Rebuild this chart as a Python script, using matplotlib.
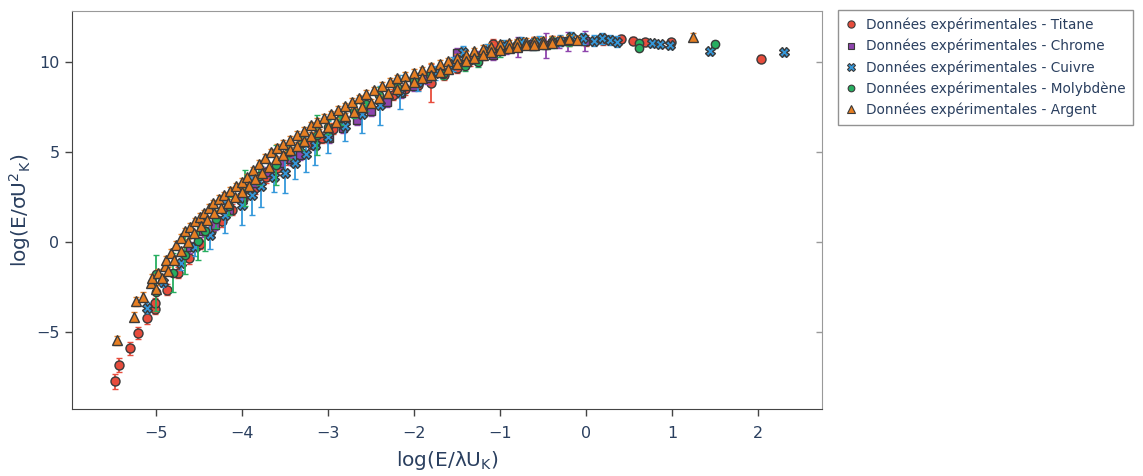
import matplotlib
matplotlib.use("Agg")
import matplotlib.pyplot as plt
from matplotlib.lines import Line2D

plt.rcParams["font.family"] = ["DejaVu Sans"]
plt.rcParams["mathtext.fontset"] = "dejavusans"

TEXT = "#2a3f5f"
EDGE = "#3a3a3a"

# Titane
titane_x = [-5.47, -5.42, -5.30, -5.20, -5.10, -5.01, -5.01, -4.87, -4.74, -4.61,
            -4.48, -4.36, -4.23, -4.11, -3.98, -3.85, -3.72, -3.59, -3.46, -3.33,
            -3.20, -3.07, -2.94, -2.80, -2.66, -2.52, -2.38, -2.24, -2.10, -1.95,
            -1.80, -1.65, -1.50, -1.35, -1.20, -1.08, -0.95, -0.80, -0.60, -0.40,
            -0.20, 0.00, 0.20, 0.41, 0.55, 0.69, 0.99, 2.03]
titane_y = [-7.75, -6.85, -5.90, -5.05, -4.20, -3.70, -3.40, -2.65, -1.70, -0.90,
            -0.10, 0.60, 1.15, 1.80, 2.40, 3.00, 3.60, 4.10, 4.60, 5.10,
            5.45, 5.80, 6.30, 6.70, 7.10, 7.50, 7.85, 8.20, 8.50, 8.75,
            8.85, 9.30, 9.70, 10.10, 10.45, 11.00, 10.80, 10.95, 11.10, 11.15,
            11.20, 11.20, 11.25, 11.30, 11.20, 11.10, 11.10, 10.20]
titane_err = [0.40, 0.40, 0.35, 0.35, 0.35, 0.30, 0.30, 0.30, 0.30, 0.30,
              0.30, 0.30, 0.30, 0.30, 0.30, 0.30, 0.30, 0.30, 0.30, 0.30,
              0.30, 0.30, 0.30, 0.30, 0.30, 0.30, 0.30, 0.30, 0.30, 0.30,
              1.05, 0.30, 0.30, 0.30, 0.30, 0.30, 0.30, 0.30, 0.30, 0.30,
              0.30, 0.30, 0.30, 0.20, 0.20, 0.20, 0.20, 0.20]

# Chrome
chrome_x = [-4.60, -4.45, -4.31, -4.15, -4.00, -3.85, -3.70, -3.55, -3.43, -3.32,
            -3.15, -2.99, -2.82, -2.66, -2.50, -2.31, -2.15, -2.00, -1.85, -1.70,
            -1.50, -1.39, -1.25, -1.08, -0.93, -0.79, -0.62, -0.46, -0.32, -0.21,
            -0.01]
chrome_y = [-0.30, 0.60, 0.95, 1.80, 2.50, 3.30, 3.90, 4.40, 4.60, 4.85,
            5.40, 5.80, 6.35, 6.80, 7.30, 7.80, 8.30, 8.70, 9.10, 9.50,
            10.50, 10.00, 10.30, 10.40, 10.75, 10.87, 11.00, 10.95, 11.10, 11.17,
            11.20]
chrome_err = [0.30, 0.30, 0.30, 0.30, 0.30, 0.30, 0.30, 0.30, 0.30, 0.30,
              0.30, 0.30, 0.30, 0.30, 0.30, 0.30, 0.30, 0.30, 0.30, 0.30,
              0.30, 0.30, 0.30, 0.30, 0.30, 0.56, 0.30, 0.70, 0.30, 0.53,
              0.55]

# Cuivre
cuivre_x = [-5.10, -4.91, -4.70, -4.54, -4.37, -4.19, -4.00, -3.88, -3.77, -3.62,
            -3.50, -3.38, -3.25, -3.15, -3.00, -2.80, -2.60, -2.39, -2.16, -1.95,
            -1.75, -1.55, -1.43, -1.15, -0.95, -0.75, -0.55, -0.30, -0.17, -0.03,
            0.09, 0.18, 0.28, 0.36, 0.76, 0.86, 0.98, 1.44, 2.30]
cuivre_y = [-3.65, -2.20, -1.15, -0.25, 0.40, 1.50, 2.05, 2.60, 3.10, 3.60,
            3.85, 4.40, 4.90, 5.40, 5.85, 6.45, 7.10, 7.60, 8.35, 8.90,
            9.40, 9.90, 10.59, 10.70, 10.95, 11.10, 11.15, 11.20, 11.39, 11.33,
            11.20, 11.33, 11.24, 11.15, 11.05, 11.00, 10.95, 10.60, 10.55]
cuivre_err = [0.30, 0.30, 0.40, 0.50, 0.80, 1.00, 1.10, 1.10, 1.15, 0.80,
              1.10, 0.90, 1.00, 1.10, 0.90, 0.85, 1.05, 1.10, 0.95, 0.50,
              0.40, 0.40, 0.30, 0.30, 0.30, 0.30, 0.30, 0.30, 0.30, 0.30,
              0.30, 0.30, 0.30, 0.30, 0.20, 0.20, 0.20, 0.20, 0.20]

# Molybdène
molybdene_x = [-4.99, -4.99, -4.80, -4.66, -4.51, -4.43, -4.30, -4.15, -3.96, -3.80,
               -3.60, -3.45, -3.30, -3.13, -3.00, -2.85, -2.70, -2.55, -2.40, -2.20,
               -2.00, -1.81, -1.66, -1.41, -1.25, -1.00, -0.80, -0.60, -0.40, -0.20,
               0.61, 0.61, 1.50]
molybdene_y = [-2.75, -1.80, -1.70, -0.70, 0.05, 0.60, 1.30, 2.00, 3.00, 3.70,
               4.30, 5.00, 5.50, 5.95, 6.40, 6.90, 7.30, 7.70, 8.20, 8.60,
               9.00, 9.29, 9.35, 9.80, 10.03, 10.60, 10.90, 11.00, 11.10, 11.20,
               11.05, 10.80, 11.00]
molybdene_err = [1.10, 1.10, 1.10, 1.05, 1.05, 1.10, 0.50, 0.50, 1.00, 0.50,
                 1.10, 0.40, 0.40, 1.10, 0.40, 0.40, 0.40, 0.40, 0.40, 0.30,
                 0.30, 0.30, 0.30, 0.30, 0.30, 0.30, 0.30, 0.30, 0.30, 0.30,
                 0.20, 0.20, 0.20]

# Argent
argent_x = [-5.45, -5.25, -5.23, -5.15, -5.05, -5.04, -4.97, -4.89, -4.88, -4.82,
            -4.76, -4.70, -4.66, -4.60, -4.54, -4.48, -4.44, -4.38, -4.33, -4.26,
            -4.20, -4.13, -4.06, -4.00, -3.94, -3.87, -3.80, -3.73, -3.66, -3.59,
            -3.52, -3.44, -3.36, -3.28, -3.20, -3.12, -3.04, -2.96, -2.88, -2.80,
            -2.72, -2.64, -2.55, -2.46, -2.37, -2.28, -2.19, -2.10, -2.00, -1.90,
            -1.80, -1.70, -1.60, -1.50, -1.40, -1.30, -1.20, -1.10, -1.00, -0.90,
            -0.80, -0.70, -0.60, -0.50, -0.40, -0.30, -0.20, -0.10, 1.24,
            -5.00, -4.93, -4.85, -4.78, -4.70, -4.62, -4.55, -4.47, -4.40, -4.32,
            -4.24, -4.16, -4.08, -4.00, -3.92, -3.84, -3.76, -3.68, -3.60, -3.52,
            -3.44, -3.36, -3.28, -3.20, -3.10, -3.00, -2.90, -2.80, -2.70, -2.60,
            -2.50, -2.40, -2.30, -2.20, -2.10, -2.00, -1.90, -1.80, -1.70, -1.60,
            -1.50, -1.40, -1.30, -1.20, -1.10, -1.00, -0.90, -0.80, -0.70, -0.60,
            -0.50, -0.40]
argent_y = [-5.45, -4.15, -3.30, -3.05, -2.30, -2.00, -1.70, -1.35, -1.00, -0.60,
            -0.15, 0.25, 0.60, 0.85, 1.15, 1.40, 1.60, 1.90, 2.15, 2.40,
            2.60, 2.85, 3.10, 3.35, 3.60, 4.00, 4.35, 4.70, 5.00, 5.25,
            5.45, 5.70, 5.95, 6.20, 6.50, 6.70, 6.90, 7.10, 7.35, 7.55,
            7.80, 8.00, 8.25, 8.45, 8.70, 8.90, 9.10, 9.25, 9.40, 9.55,
            9.75, 9.90, 10.05, 10.25, 10.40, 10.60, 10.75, 10.85, 11.00, 11.05,
            11.10, 11.15, 11.20, 11.20, 11.25, 11.25, 11.30, 11.25, 11.40,
            -2.60, -2.00, -1.60, -1.00, -0.50, 0.00, 0.50, 0.90, 1.25, 1.60,
            1.90, 2.20, 2.50, 2.80, 3.10, 3.50, 3.85, 4.20, 4.60, 4.85,
            5.10, 5.35, 5.60, 5.90, 6.10, 6.40, 6.70, 7.00, 7.25, 7.50,
            7.75, 8.00, 8.30, 8.50, 8.75, 8.90, 9.10, 9.30, 9.45, 9.65,
            9.90, 10.05, 10.25, 10.40, 10.55, 10.70, 10.80, 10.85, 10.95, 10.95,
            11.00, 11.05]
argent_err = [0.25, 0.25, 0.25, 0.25] + [0.20] * 117

SERIES = [
    ("Données expérimentales - Titane", titane_x, titane_y, titane_err, "o", "#E74C3C", 6.5),
    ("Données expérimentales - Chrome", chrome_x, chrome_y, chrome_err, "s", "#8E44AD", 6.0),
    ("Données expérimentales - Cuivre", cuivre_x, cuivre_y, cuivre_err, "X", "#3498DB", 7.0),
    ("Données expérimentales - Molybdène", molybdene_x, molybdene_y, molybdene_err, "o", "#27AE60", 6.0),
    ("Données expérimentales - Argent", argent_x, argent_y, argent_err, "^", "#E67E22", 7.2),
]

fig = plt.figure(figsize=(11.43, 4.76), dpi=100)
ax = fig.add_axes([72 / 1143, 1 - 409 / 476, 750 / 1143, 398 / 476])

handles = []
for i, (label, xs, ys, errs, marker, color, size) in enumerate(SERIES):
    ax.errorbar(xs, ys, yerr=errs, fmt=marker, color=color, ecolor=color,
                elinewidth=1.3, capsize=2.5, capthick=1.3,
                markersize=size, markeredgecolor=EDGE, markeredgewidth=1.0,
                zorder=3 + i)
    handles.append(Line2D([], [], linestyle="none", marker=marker,
                          markerfacecolor=color, markeredgecolor=EDGE,
                          markeredgewidth=0.8, markersize=size * 0.8, label=label))

ax.set_xlim(-5.97, 2.74)
ax.set_ylim(-9.28, 12.85)
ax.set_xticks([-5, -4, -3, -2, -1, 0, 1, 2])
ax.set_yticks([-5, 0, 5, 10])
ax.set_xticklabels(["\u22125", "\u22124", "\u22123", "\u22122", "\u22121", "0", "1", "2"])
ax.set_yticklabels(["\u22125", "0", "5", "10"])

for side in ("left", "bottom"):
    ax.spines[side].set_color("#444444")
for side in ("top", "right"):
    ax.spines[side].set_color("#999999")

ax.tick_params(axis="both", which="major", direction="out", length=5, width=1,
               color="#444444", labelcolor=TEXT, labelsize=11.5, pad=4)
ax.tick_params(axis="x", pad=7)
ax.tick_params(axis="y", right=True, labelright=False)
for t in ax.yaxis.get_ticklines()[1::2]:
    t.set_markeredgecolor("#999999")
    t.set_marker(0)
    t.set_markersize(4)

ax.set_xlabel(r"log(E/λU$_{\mathrm{K}}$)", fontsize=14.5, color=TEXT, labelpad=6)
ax.set_ylabel(r"log(E/σU$^{\mathrm{2}}$$_{\mathrm{K}}$)", fontsize=14.5, color=TEXT, labelpad=2)

leg = fig.legend(handles=handles, loc="upper left",
                 bbox_to_anchor=(838 / 1143, 1 - 10 / 476),
                 fontsize=9.8, frameon=True, fancybox=False,
                 handlelength=0.8, handletextpad=0.7, labelspacing=0.5,
                 borderpad=0.55, borderaxespad=0)
leg.get_frame().set_edgecolor("#777777")
leg.get_frame().set_linewidth(1.0)
for txt in leg.get_texts():
    txt.set_color(TEXT)

fig.savefig("out.png", dpi=100)
